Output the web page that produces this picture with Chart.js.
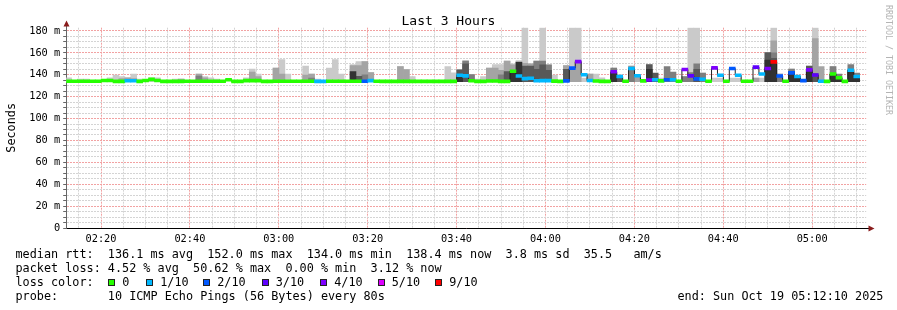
<!DOCTYPE html>
<html>
<head>
<meta charset="utf-8">
<title>Last 3 Hours</title>
<script src="https://cdn.jsdelivr.net/npm/chart.js@4.4.1/dist/chart.umd.min.js"></script>
<style>
  html, body { margin: 0; padding: 0; background: #fff; }
  #wrap { position: relative; width: 897px; height: 310px; overflow: hidden; background: #fff; }
  #chart { position: absolute; left: 0; top: 0; }
  .txt { position: absolute; font-family: 'DejaVu Sans Mono', monospace; color: #000; white-space: pre; }
  #title { left: 0; width: 897px; text-align: center; top: 13.5px; font-size: 13px; line-height: 13px; }
  .legend { font-size: 11.8px; line-height: 14px; }
  .box { position: absolute; width: 5px; height: 5px; border: 1px solid #222; }
  #watermark { left: 884px; top: 5px; font-size: 8.3px; line-height: 9px; color: #b4b4b4; writing-mode: vertical-rl; }
</style>
</head>
<body>
<div id="wrap">
  <canvas id="chart" width="897" height="310"></canvas>
  <div class="txt" id="title">Last 3 Hours</div>
  <div class="txt legend" style="left:15.5px;top:247.2px">median rtt:  136.1 ms avg  152.0 ms max  134.0 ms min  138.4 ms now  3.8 ms sd  35.5   am/s</div>
  <div class="txt legend" style="left:15.5px;top:261.2px">packet loss: 4.52 % avg  50.62 % max  0.00 % min  3.12 % now</div>
  <div class="txt legend" style="left:15.5px;top:275.2px">loss color:</div>
  <div id="lossLegend"></div>
  <div class="txt legend" style="left:15.5px;top:289.2px">probe:       10 ICMP Echo Pings (56 Bytes) every 80s</div>
  <div class="txt legend" style="left:677.5px;top:289.2px">end: Sun Oct 19 05:12:10 2025</div>
  <div class="txt" id="watermark">RRDTOOL / TOBI OETIKER</div>
</div>
<script>
const _ = null;

// RRD step is 80 s, times are minutes after midnight
const sampleStart = 132 + 2 / 60;   // first sample begins 02:12:02
const sampleStep = 80 / 60;
const viewStart = 132 + 10 / 60;    // 02:12:10
const viewEnd = 312 + 10 / 60;      // 05:12:10

const xTickLabels = ['02:20', '02:40', '03:00', '03:20', '03:40', '04:00', '04:20', '04:40', '05:00'];
const yTickLabels = ['0', '20 m', '40 m', '60 m', '80 m', '100 m', '120 m', '140 m', '160 m', '180 m'];
const yMax = 183;

const lossLevels = [0, 1, 2, 3, 4, 5, 9];
const lossLabels = ['0', '1/10', '2/10', '3/10', '4/10', '5/10', '9/10'];
const lossColors = ['#26ff00', '#00b8ff', '#0059ff', '#5e00ff', '#7e00ff', '#dd00ff', '#ff0000'];

// median rtt per sample (ms)
const median = [
  134.1, 134.1, 134.1, 134.1, 134.1, 134.1, 134.8, 134.8, 134.0, 134.0,
  134.5, 134.5, 134.0, 134.7, 135.8, 134.7, 134.0, 134.0, 134.0, 134.0,
  134.1, 134.1, 134.1, 134.1, 134.1, 134.1, 134.1, 135.5, 134.0, 134.0,
  134.6, 134.6, 134.6, 134.0, 134.0, 134.1, 134.1, 134.1, 134.1, 134.1,
  134.1, 134.1, 134.0, 134.0, 134.1, 134.1, 134.1, 134.1, 134.1, 134.1,
  134.1, 134.6, 134.1, 134.0, 134.0, 134.0, 134.0, 134.0, 134.0, 134.0,
  134.0, 134.0, 134.0, 134.0, 134.0, 134.0, 139.5, 139.0, 134.5, 134.0,
  134.0, 134.3, 134.3, 134.0, 134.0, 143.2, 138.9, 136.5, 136.8, 134.5,
  134.6, 134.6, 134.2, 134.0, 134.4, 146.1, 152.0, 140.0, 134.7, 134.3,
  134.0, 134.0, 142.7, 138.4, 134.1, 145.7, 139.1, 134.4, 135.2, 135.4,
  134.4, 135.4, 135.4, 134.1, 144.8, 139.0, 136.2, 135.9, 134.1, 146.3,
  139.5, 134.1, 145.7, 139.5, 134.1, 134.1, 147.0, 140.7, 145.7, 151.8,
  138.9, 134.1, 141.7, 138.4, 134.6, 144.5, 139.8, 134.1, 134.0, 140.7,
  137.3, 134.0, 144.1, 138.4, _
];

// lost pings out of 10 per sample
const lossCount = [
  0, 0, 0, 0, 0, 0, 0, 0, 0, 0,
  1, 1, 0, 0, 0, 0, 0, 0, 0, 0,
  0, 0, 0, 0, 0, 0, 0, 0, 0, 0,
  0, 0, 0, 0, 0, 0, 0, 0, 0, 0,
  0, 0, 1, 1, 0, 0, 0, 0, 0, 0,
  2, 1, 0, 0, 0, 0, 0, 0, 0, 0,
  0, 0, 0, 0, 0, 0, 1, 1, 0, 0,
  0, 0, 0, 0, 0, 0, 1, 1, 1, 1,
  1, 1, 0, 0, 2, 2, 4, 1, 1, 0,
  0, 0, 4, 1, 0, 1, 1, 0, 4, 1,
  0, 2, 1, 0, 4, 3, 2, 1, 0, 4,
  1, 0, 2, 1, 0, 0, 3, 1, 4, 9,
  2, 0, 2, 1, 2, 4, 3, 1, 0, 0,
  0, 0, 1, 1, _
];

// smoke: lowest ping, and top of each smoke shade (outer -> inner)
const smokeFloor = 133.6;
const smoke1 = [
  137.1, _, 136.1, 136.1, _, _, _, 137.1, 139.8, 138.3,
  137.1, 140.7, 136.1, _, 137.1, 137.1, _, _, 136.1, 136.1,
  _, _, 140.7, 138.4, 137.1, 136.1, _, _, _, _,
  137.1, 145.3, 140.7, _, _, 146.2, 153.8, 140.7, _, _,
  148.0, 140.7, 136.1, _, 146.2, 153.8, 140.7, _, 149.2, 152.1,
  152.1, 141.9, _, _, _, _, 147.4, 144.7, 138.3, _,
  _, _, _, _, 147.4, 141.7, 145.0, 153.0, 140.1, 136.0,
  138.3, 146.2, 149.2, 149.2, 152.6, 150.0, 153.0, 183, 150.0, 152.6,
  183, 149.0, 139.8, _, 148.4, 183, 183, 137.0, 140.7, 140.7,
  137.1, _, 146.2, 140.0, _, 148.0, 139.0, _, 149.2, _,
  137.0, _, _, _, 138.3, 183, 183, 141.6, _, 137.0,
  137.0, _, 137.0, 137.0, _, _, 137.0, 137.0, 160.2, 183,
  141.0, _, 145.3, _, _, 148.0, 183, _, _, 147.4,
  _, _, _, _, _
];
const smoke2 = [
  _, _, _, _, _, _, _, _, _, 136.5,
  137.1, 136.5, _, _, _, _, _, _, _, 136.1,
  _, _, 140.7, 137.1, _, _, _, _, _, _,
  _, 142.5, 138.4, _, _, 146.2, 140.7, _, _, _,
  139.8, 140.7, _, _, _, _, _, _, 148.4, 148.3,
  152.1, 141.9, _, _, _, _, 147.4, 144.7, _, _,
  _, _, _, _, _, _, _, _, _, _,
  _, 146.2, 146.2, 144.0, 152.6, 149.0, 152.0, 150.5, 150.0, _,
  _, _, _, _, 148.4, 146.0, 152.0, _, 140.7, _,
  _, _, _, _, _, 148.0, 139.0, _, _, _,
  _, _, _, _, _, _, _, _, _, _,
  _, _, _, _, _, _, 137.0, _, _, 171.0,
  _, _, _, _, _, _, 173.0, 147.4, _, _,
  _, _, _, _, _
];
const smoke3 = [
  _, _, _, _, _, _, _, _, _, _,
  _, _, _, _, _, _, _, _, _, _,
  _, _, 138.8, _, _, _, _, _, _, _,
  _, _, _, _, _, _, _, _, _, _,
  _, 137.0, _, _, _, _, _, _, _, _,
  140.0, _, _, _, _, _, _, _, _, _,
  _, _, _, _, _, _, _, 152.6, 140.1, _,
  _, _, _, 140.0, _, _, _, _, _, 152.6,
  152.6, 149.0, _, _, _, _, _, _, _, _,
  _, _, 146.2, _, _, 147.0, _, _, _, _,
  _, 147.4, 142.5, _, 138.3, 142.0, 149.9, 141.6, _, _,
  _, _, _, _, _, _, _, _, _, 160.0,
  140.0, _, 145.3, _, _, _, _, _, _, 147.4,
  140.7, _, 149.2, 141.6, _
];
const smoke4 = [
  _, _, _, _, _, _, _, _, _, _,
  _, _, _, _, _, _, _, _, _, _,
  _, _, _, _, _, _, _, _, _, _,
  _, _, _, _, _, _, _, _, _, _,
  _, _, _, _, _, _, _, _, _, 138.6,
  _, _, _, _, _, _, _, _, _, _,
  _, _, _, _, _, _, 144.4, 149.9, _, _,
  _, _, _, _, 143.0, _, _, 148.0, 148.0, 145.0,
  149.0, 144.0, _, _, 145.0, _, _, _, _, _,
  _, _, _, 137.7, _, _, _, _, 149.2, 141.6,
  _, _, _, _, _, _, 145.0, _, _, _,
  _, _, _, _, _, _, _, _, 160.2, 155.0,
  _, _, _, _, _, 148.0, 141.0, _, _, _,
  _, _, _, _, _
];
const smoke5 = [
  _, _, _, _, _, _, _, _, _, _,
  _, _, _, _, _, _, _, _, _, _,
  _, _, _, _, _, _, _, _, _, _,
  _, _, _, _, _, _, _, _, _, _,
  _, _, _, _, _, _, _, _, 142.9, _,
  _, _, _, _, _, _, _, _, _, _,
  _, _, _, _, _, _, 138.0, _, _, _,
  _, _, _, _, _, 143.0, 151.4, _, _, _,
  _, _, _, _, _, _, _, _, _, _,
  _, _, 142.0, _, _, _, _, _, 145.0, _,
  _, _, _, _, _, _, _, _, _, _,
  _, _, _, _, _, _, _, _, 153.5, 152.0,
  _, _, 142.8, 138.0, _, 144.0, _, _, _, 140.7,
  137.3, _, 144.0, 138.4, _
];
const smokeShades = ['#cacaca', '#a4a4a4', '#7e7e7e', '#585858', '#323232'];

const MAJOR = '#f2a2a2';
const MINOR = '#d4d4d4';

function sampleTime(i) {
  return sampleStart + (i + 0.5) * sampleStep;
}

function lossColor(n) {
  for (let k = 0; k < lossLevels.length; k++) {
    if (n <= lossLevels[k]) return lossColors[k];
  }
  return lossColors[lossColors.length - 1];
}

function toMinutes(label) {
  const [h, m] = label.split(':').map(Number);
  return h * 60 + m;
}

function smokeData(tops) {
  const out = [];
  tops.forEach((t, i) => {
    if (t != null) out.push({ x: sampleTime(i), y: [smokeFloor, t] });
  });
  return out;
}

// loss color legend row
const legendX = [108, 146, 203, 261.5, 320, 377.5, 435];
const lossLegend = document.getElementById('lossLegend');
lossLabels.forEach((label, k) => {
  const box = document.createElement('div');
  box.className = 'box';
  box.style.left = legendX[k] + 'px';
  box.style.top = '279px';
  box.style.background = lossColors[k];
  lossLegend.appendChild(box);
  const txt = document.createElement('div');
  txt.className = 'txt legend';
  txt.style.left = (legendX[k] + 14.2) + 'px';
  txt.style.top = '275.2px';
  txt.textContent = label;
  lossLegend.appendChild(txt);
});

const datasets = [];
const barCommon = {
  type: 'bar',
  barPercentage: 1,
  categoryPercentage: 1,
  grouped: false,
  borderWidth: 0
};

smokeShades.forEach((shade, k) => {
  datasets.push(Object.assign({}, barCommon, {
    data: smokeData([smoke1, smoke2, smoke3, smoke4, smoke5][k]),
    backgroundColor: shade,
    order: 10 - k
  }));
});

datasets.push({
  type: 'line',
  data: median.map((m, i) => ({ x: sampleTime(i), y: m })),
  stepped: 'middle',
  borderColor: '#202020',
  borderWidth: 1,
  pointRadius: 0,
  spanGaps: false,
  order: 2
});

const bandData = [];
median.forEach((m, i) => {
  if (m != null) bandData.push({ x: sampleTime(i), y: [m - 1.35, m + 1.35], loss: lossCount[i] });
});
datasets.push(Object.assign({}, barCommon, {
  data: bandData,
  backgroundColor: ctx => lossColor(ctx.raw ? ctx.raw.loss : 0),
  order: 1
}));

// little red arrows at the ends of the axes, like rrdtool
const axisArrows = {
  id: 'axisArrows',
  afterDraw(chart) {
    const { ctx, chartArea: a } = chart;
    ctx.save();
    ctx.strokeStyle = '#666';
    ctx.lineWidth = 1;
    ctx.beginPath();
    ctx.moveTo(66.5, a.top);
    ctx.lineTo(66.5, 24);
    ctx.stroke();
    ctx.strokeStyle = '#000';
    ctx.beginPath();
    ctx.moveTo(a.right, 228.5);
    ctx.lineTo(869, 228.5);
    ctx.stroke();
    ctx.fillStyle = '#8a1c1c';
    ctx.beginPath();
    ctx.moveTo(66.5, 20.5);
    ctx.lineTo(63.5, 26.5);
    ctx.lineTo(69.5, 26.5);
    ctx.closePath();
    ctx.fill();
    ctx.beginPath();
    ctx.moveTo(874.5, 228.5);
    ctx.lineTo(868.5, 225.5);
    ctx.lineTo(868.5, 231.5);
    ctx.closePath();
    ctx.fill();
    ctx.restore();
  }
};

const gridColor = ctx => (ctx.tick && Math.round(ctx.tick.value) % 20 === 0 ? MAJOR : MINOR);
const xLabelMinutes = xTickLabels.map(toMinutes);

Chart.defaults.font.family = "'DejaVu Sans Mono', monospace";

new Chart(document.getElementById('chart'), {
  type: 'bar',
  data: { datasets },
  plugins: [axisArrows],
  options: {
    responsive: false,
    animation: false,
    layout: { padding: { left: 0, top: 228 - yMax * (200.3 / 183), right: 897 - 866.2, bottom: 62 } },
    plugins: { legend: { display: false }, tooltip: { enabled: false }, title: { display: false } },
    scales: {
      x: {
        type: 'linear',
        min: viewStart,
        max: viewEnd,
        offset: false,
        afterBuildTicks(scale) {
          const ticks = [];
          for (let v = Math.ceil(viewStart / 5) * 5; v <= viewEnd; v += 5) ticks.push({ value: v });
          scale.ticks = ticks;
        },
        afterFit(scale) { scale.height = 20; },
        grid: { offset: false, color: gridColor, drawTicks: false, lineWidth: 1 },
        border: { display: true, color: '#000', width: 1, dash: [2, 1] },
        ticks: {
          autoSkip: false,
          maxRotation: 0,
          minRotation: 0,
          padding: 5,
          color: '#000',
          font: { size: 10.3 },
          callback(value) {
            const k = xLabelMinutes.indexOf(Math.round(value));
            return k >= 0 ? xTickLabels[k] : '';
          }
        }
      },
      y: {
        type: 'linear',
        min: 0,
        max: yMax,
        afterBuildTicks(scale) {
          const ticks = [];
          for (let v = 0; v <= 180; v += 5) ticks.push({ value: v });
          scale.ticks = ticks;
        },
        afterFit(scale) { scale.width = 66.2; },
        grid: { color: gridColor, drawTicks: true, tickLength: 3, tickColor: '#666', lineWidth: 1 },
        border: { display: true, color: '#666', width: 1, dash: [2, 1] },
        title: {
          display: true,
          text: 'Seconds',
          color: '#000',
          font: { size: 11.8 },
          padding: { top: 5, bottom: 0 }
        },
        ticks: {
          autoSkip: false,
          padding: 3,
          color: '#000',
          font: { size: 10.3 },
          callback(value) {
            return value % 20 === 0 ? yTickLabels[value / 20] : '';
          }
        }
      }
    }
  }
});
</script>
</body>
</html>
